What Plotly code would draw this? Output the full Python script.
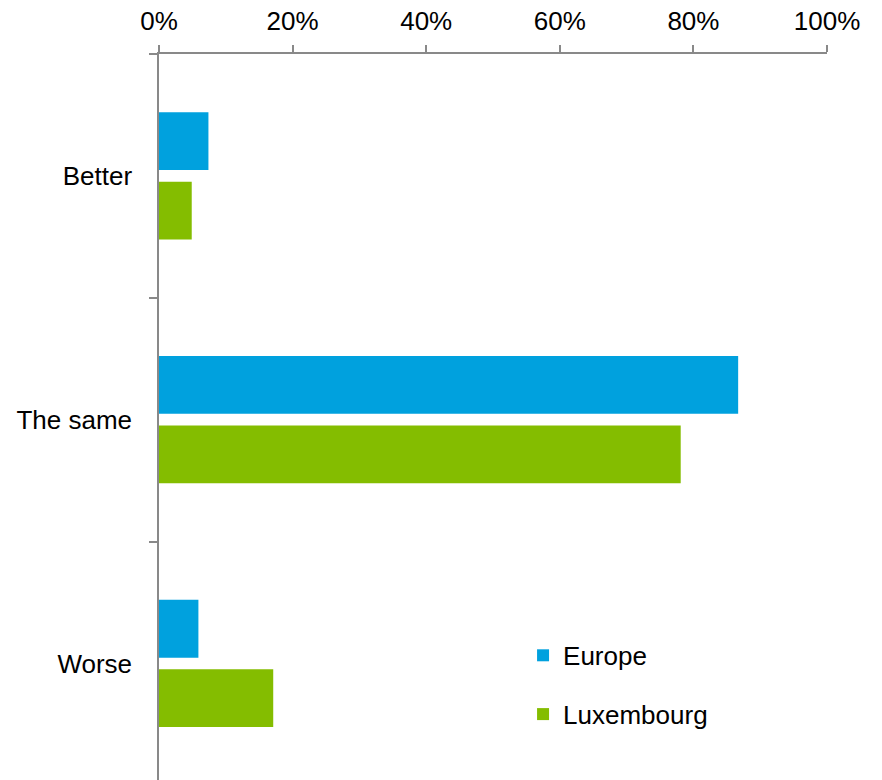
import plotly.graph_objects as go

# Survey answers and shares (%) per region
categories = ["Better", "The same", "Worse"]
europe = [7.4, 86.7, 5.9]
luxembourg = [4.9, 78.1, 17.1]
x_ticks = [0, 20, 40, 60, 80, 100]
x_tick_labels = ["0%", "20%", "40%", "60%", "80%", "100%"]

BLUE = "#00A1DE"
GREEN = "#84BD00"
GREY = "#898989"
FONT = "Liberation Sans, Arial, sans-serif"

fig = go.Figure()
fig.add_trace(go.Bar(
    y=categories, x=europe, name="Europe", orientation="h",
    marker=dict(color=BLUE, line=dict(width=0)),
    legendgroup="eu",
))
fig.add_trace(go.Bar(
    y=categories, x=luxembourg, name="Luxembourg", orientation="h",
    marker=dict(color=GREEN, line=dict(width=0)),
    legendgroup="lu",
))

fig.update_layout(
    width=882, height=780,
    margin=dict(l=159, r=55, t=54, b=0, pad=0),
    paper_bgcolor="white", plot_bgcolor="white",
    font=dict(family=FONT, size=26, color="#000000"),
    barmode="group", bargap=0.43, bargroupgap=0.168,
    showlegend=True,
    legend=dict(
        x=0.545, y=0.204, xanchor="left", yanchor="top",
        bgcolor="rgba(0,0,0,0)", traceorder="grouped", tracegroupgap=22,
        font=dict(family=FONT, size=26, color="#000000"),
        itemwidth=30,
    ),
    xaxis=dict(
        side="top", range=[0, 100], tickmode="array",
        tickvals=x_ticks, ticktext=x_tick_labels,
        showgrid=False, zeroline=False, showline=True, linecolor=GREY, linewidth=1.5,
        ticks="outside", ticklen=7, tickcolor=GREY, tickwidth=1.5,
        ticklabelstandoff=5,
    ),
    yaxis=dict(
        type="category", range=[2.478, -0.5], tickson="boundaries",
        showgrid=False, zeroline=False, showline=True, linecolor=GREY, linewidth=1.5,
        ticks="outside", ticklen=8, tickcolor=GREY, tickwidth=1.5,
        ticklabelstandoff=20,
    ),
)

fig.write_html("out.html")
